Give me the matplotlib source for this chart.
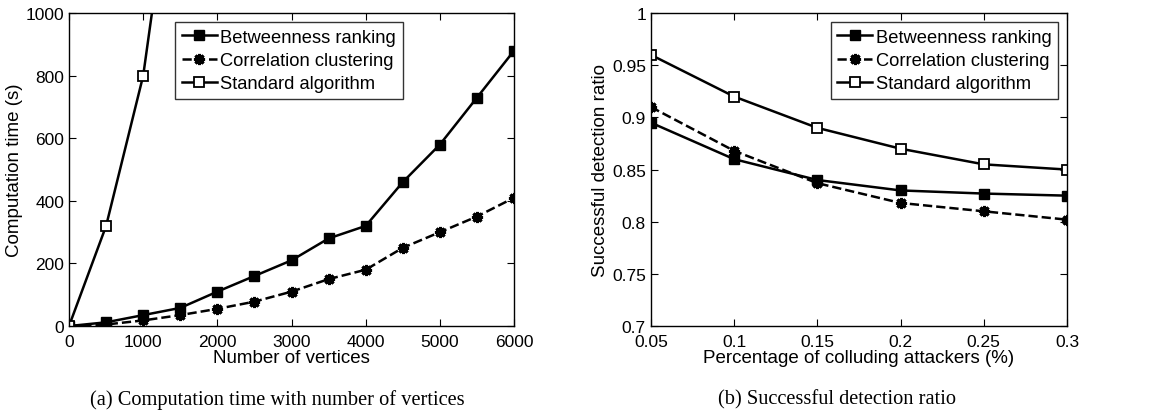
import numpy as np
from matplotlib import pyplot as plt

plt.rcParams['font.family'] = 'Liberation Sans'

# left panel data
vertices = [0, 500, 1000, 1500, 2000, 2500, 3000, 3500, 4000, 4500, 5000, 5500, 6000]
betw_time = [0, 12, 35, 58, 110, 160, 210, 280, 320, 460, 580, 730, 880]
corr_time = [0, 5, 18, 35, 55, 78, 110, 150, 180, 250, 300, 350, 410]
std_vertices = [0, 500, 1000, 1500]
std_time = [0, 320, 800, 1650]

# right panel data
attackers = [0.05, 0.1, 0.15, 0.2, 0.25, 0.3]
betw_ratio = [0.895, 0.86, 0.84, 0.83, 0.827, 0.825]
corr_ratio = [0.91, 0.868, 0.837, 0.818, 0.81, 0.802]
std_ratio = [0.96, 0.92, 0.89, 0.87, 0.855, 0.85]

labels = ["Betweenness ranking", "Correlation clustering", "Standard algorithm"]

fig = plt.figure(figsize=(11.56, 4.14), dpi=100)
ax1 = fig.add_axes([0.0597, 0.210, 0.385, 0.756])
ax2 = fig.add_axes([0.563, 0.210, 0.360, 0.756])

star = (8, 2, 0)

def draw(ax, x, y1, y2, xs, y3):
    ax.plot(x, y1, '-', color='black', lw=1.8, marker='s', ms=7, label=labels[0])
    ax.plot(x, y2, '--', color='black', lw=1.8, marker=star, ms=8, mew=2.2, label=labels[1])
    ax.plot(xs, y3, '-', color='black', lw=1.8, marker='s', ms=7, mfc='white', mew=1.3, label=labels[2])
    ax.tick_params(direction='in', top=True, right=True, labelsize=12.5, length=5)
    ax.tick_params(axis='x', pad=6)
    leg = ax.legend(loc='upper right', fontsize=13.2, frameon=True, fancybox=False,
                    edgecolor='black', handlelength=1.9, borderpad=0.35, labelspacing=0.35,
                    handletextpad=0.2, borderaxespad=0.5)
    leg.get_frame().set_linewidth(1.0)
    for s in ax.spines.values():
        s.set_linewidth(1.0)

draw(ax1, vertices, betw_time, corr_time, std_vertices, std_time)
ax1.set_xlim(0, 6000)
ax1.set_ylim(0, 1000)
ax1.set_xticks(range(0, 6001, 1000))
ax1.set_yticks(range(0, 1001, 200))
ax1.set_xlabel("Number of vertices", fontsize=13.5, labelpad=0)
ax1.set_ylabel("Computation time (s)", fontsize=13.5, labelpad=2)
leg1 = ax1.get_legend()
leg1.set_bbox_to_anchor((0.77, 1.0), transform=ax1.transAxes)

draw(ax2, attackers, betw_ratio, corr_ratio, attackers, std_ratio)
ax2.set_xlim(0.05, 0.3)
ax2.set_ylim(0.7, 1.0)
ax2.set_xticks(attackers)
ax2.set_xticklabels(["0.05", "0.1", "0.15", "0.2", "0.25", "0.3"])
ax2.set_yticks([0.7, 0.75, 0.8, 0.85, 0.9, 0.95, 1.0])
ax2.set_yticklabels(["0.7", "0.75", "0.8", "0.85", "0.9", "0.95", "1"])
ax2.set_xlabel("Percentage of colluding attackers (%)", fontsize=13.5, labelpad=0)
ax2.set_ylabel("Successful detection ratio", fontsize=13.5, labelpad=2)

fig.text(0.24, 0.034, "(a) Computation time with number of vertices",
         family='Liberation Serif', fontsize=14.7, ha='center', va='center')
fig.text(0.724, 0.034, "(b) Successful detection ratio",
         family='Liberation Serif', fontsize=14.7, ha='center', va='center')

fig.savefig("out.png", dpi=100)
